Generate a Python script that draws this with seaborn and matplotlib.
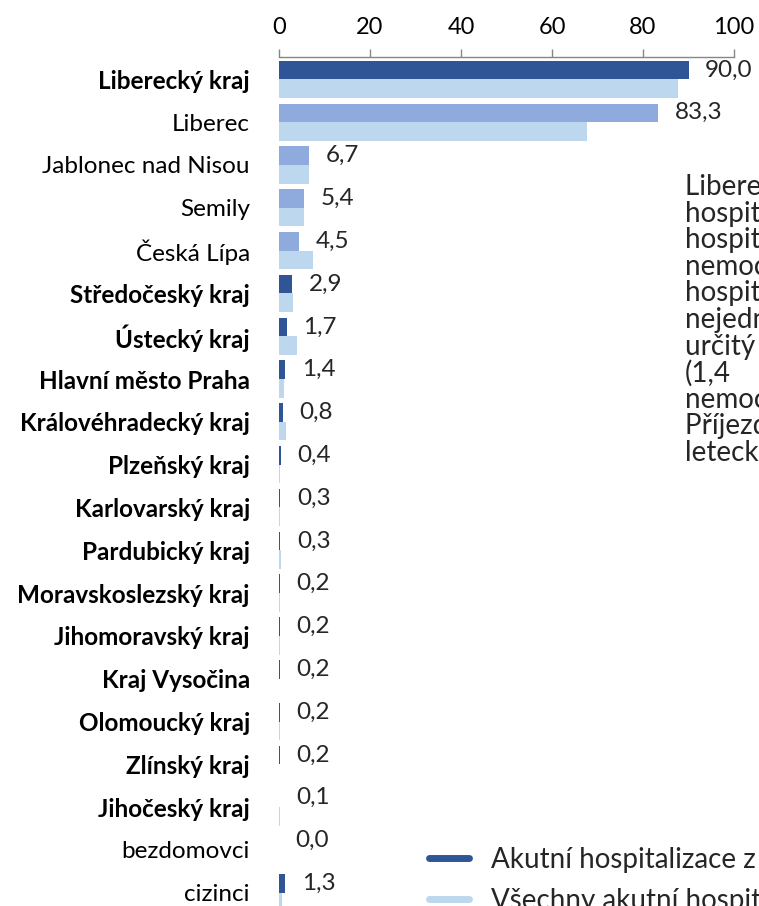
import matplotlib
matplotlib.use("Agg")
import numpy as np
import pandas as pd
import matplotlib.pyplot as plt
from matplotlib.lines import Line2D
import seaborn as sns

# --- data ---
kategorie = [
    "Liberecký kraj", "Liberec", "Jablonec nad Nisou", "Semily", "Česká Lípa",
    "Středočeský kraj", "Ústecký kraj", "Hlavní město Praha", "Královéhradecký kraj",
    "Plzeňský kraj", "Karlovarský kraj", "Pardubický kraj", "Moravskoslezský kraj",
    "Jihomoravský kraj", "Kraj Vysočina", "Olomoucký kraj", "Zlínský kraj",
    "Jihočeský kraj", "bezdomovci", "cizinci",
]
tucne = [True, False, False, False, False, True, True, True, True, True,
         True, True, True, True, True, True, True, True, False, False]
okresy = [False, True, True, True, True] + [False] * 15

akutni = [90.0, 83.3, 6.7, 5.4, 4.5, 2.9, 1.7, 1.4, 0.8, 0.4,
          0.3, 0.3, 0.2, 0.2, 0.2, 0.2, 0.2, 0.1, 0.0, 1.3]
vsechny = [87.8, 67.8, 6.6, 5.6, 7.5, 3.1, 3.9, 1.1, 1.5, 0.2,
           0.2, 0.4, 0.2, 0.2, 0.1, 0.2, 0.1, 0.2, 0.0, 0.6]

serie = ["Akutní hospitalizace z důvodu covid-19", "Všechny akutní hospitalizace"]

# text vpravo je v originale oriznuty okrajem obrazku
text_vpravo = [
    "Liberecký kraj má nejvyšší podíl",
    "hospitalizací vlastních obyvatel,",
    "hospitalizováni jsou zde převážně",
    "nemocní z vlastního kraje.",
    "hospitalizace mimokrajských",
    "nejedná se o velké počty,",
    "určitý podíl mají pacienti z Prahy",
    "(1,4",
    "nemocnic v kraji dostávají.",
    "Příjezd je možný i",
    "letecky.",
]

TMAVA = "#2F5597"
OKRES = "#8FAADC"
SVETLA = "#BDD7EE"

df = pd.DataFrame({
    "kategorie": kategorie * 2,
    "serie": [serie[0]] * len(kategorie) + [serie[1]] * len(kategorie),
    "hodnota": akutni + vsechny,
})

sns.set_theme(style="white")
plt.rcParams["font.family"] = ["Lato", "DejaVu Sans"]

W, H = 759, 906
fig = plt.figure(figsize=(W / 100, H / 100), dpi=100)
ax = fig.add_axes([279 / W, -0.009, 455 / W, 0.946])

sns.barplot(data=df, y="kategorie", x="hodnota", hue="serie", orient="h",
            palette=[TMAVA, SVETLA], width=0.87, saturation=1, legend=False,
            linewidth=0, ax=ax)

# okresy Libereckeho kraje svetlejsi modrou
for bar, je_okres in zip(ax.containers[0], okresy):
    if je_okres:
        bar.set_facecolor(OKRES)

popisky = [f"{v:.1f}".replace(".", ",") for v in akutni]
ax.bar_label(ax.containers[0], labels=popisky, padding=12, fontsize=17.5)

ax.set_xlim(0, 100)
ax.set_ylim(19.5, -0.52)
ax.xaxis.tick_top()
ax.set_xticks(np.arange(0, 101, 20))
ax.set_xlabel("")
ax.set_ylabel("")
for s in ["left", "right", "bottom"]:
    ax.spines[s].set_visible(False)
ax.spines["top"].set_color("#868686")
ax.spines["top"].set_linewidth(1.0)
ax.tick_params(axis="x", top=True, bottom=False, length=6, width=1,
               color="#868686", pad=8, labelsize=17, labelcolor="black")
ax.tick_params(axis="y", length=0, pad=21, labelsize=17.5, labelcolor="black")
for lbl, b in zip(ax.get_yticklabels(), tucne):
    lbl.set_fontweight("bold" if b else "normal")

for i, radek in enumerate(text_vpravo):
    fig.text(685 / W, 1 - (187 + i * 26.6) / H, radek, fontsize=20,
             va="center", ha="left")

handles = [Line2D([], [], color=TMAVA, lw=5), Line2D([], [], color=SVETLA, lw=5)]
fig.legend(handles, serie, loc="upper left", bbox_to_anchor=(429 / W, 1 - 846 / H),
           frameon=False, fontsize=20, handlelength=1.45, handletextpad=0.8,
           labelspacing=0.54, borderpad=0, borderaxespad=0)

fig.savefig("out.png", dpi=100)
